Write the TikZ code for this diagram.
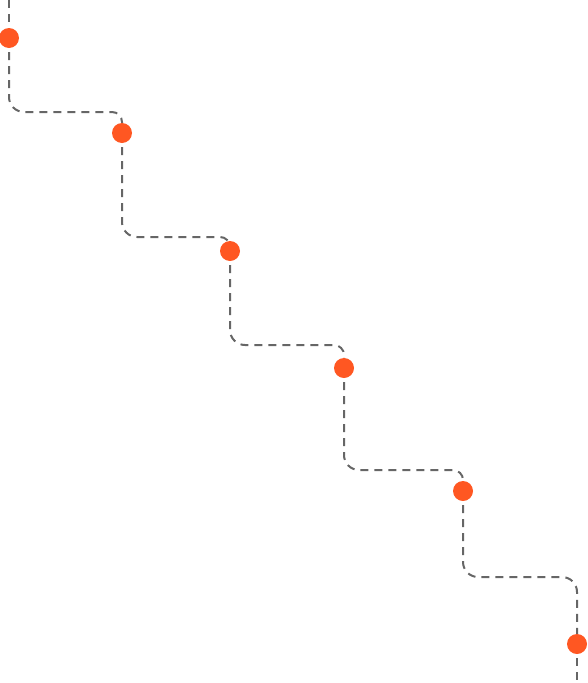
\documentclass[tikz,border=0pt]{standalone}
\definecolor{dotorange}{HTML}{FF5722}
\definecolor{pathgray}{HTML}{666666}
\tikzset{
  dotnode/.style={circle, fill=dotorange, minimum size=20pt, inner sep=0pt, draw=none},
  conn/.style={draw=pathgray, line width=2pt, dash pattern=on 8pt off 6pt},
  bigturn/.style={rounded corners=15pt},
  smallturn/.style={rounded corners=10pt}
}
\begin{document}
\begin{tikzpicture}[x=1pt,y=-1pt]
\useasboundingbox (0,0) rectangle (587,683);
% levels of the horizontal runs
\coordinate (h1) at (0,112);
\coordinate (h2) at (0,237);
\coordinate (h3) at (0,345);
\coordinate (h4) at (0,470);
\coordinate (h5) at (0,577);
\coordinate (top) at (9,0);
\coordinate (bottom) at (577,683);
% dot positions
\coordinate (p1) at (9,38);
\coordinate (p2) at (122,133);
\coordinate (p3) at (230,251);
\coordinate (p4) at (344,368);
\coordinate (p5) at (463,491);
\coordinate (p6) at (577,644);
% connectors
\draw[conn] (top) -- (p1);
\draw[conn] (p1) [bigturn] -- (p1 |- h1) [smallturn] -- (p2 |- h1) -- (p2);
\draw[conn] (p2) [bigturn] -- (p2 |- h2) [smallturn] -- (p3 |- h2) -- (p3);
\draw[conn] (p3) [bigturn] -- (p3 |- h3) [smallturn] -- (p4 |- h3) -- (p4);
\draw[conn] (p4) [bigturn] -- (p4 |- h4) [smallturn] -- (p5 |- h4) -- (p5);
\draw[conn] (p5) [bigturn] -- (p5 |- h5) [bigturn] -- (p6 |- h5) -- (p6);
\draw[conn] (p6) -- (bottom);
% dots
\node[dotnode] (d1) at (p1) {};
\node[dotnode] (d2) at (p2) {};
\node[dotnode] (d3) at (p3) {};
\node[dotnode] (d4) at (p4) {};
\node[dotnode] (d5) at (p5) {};
\node[dotnode] (d6) at (p6) {};
\end{tikzpicture}
\end{document}
